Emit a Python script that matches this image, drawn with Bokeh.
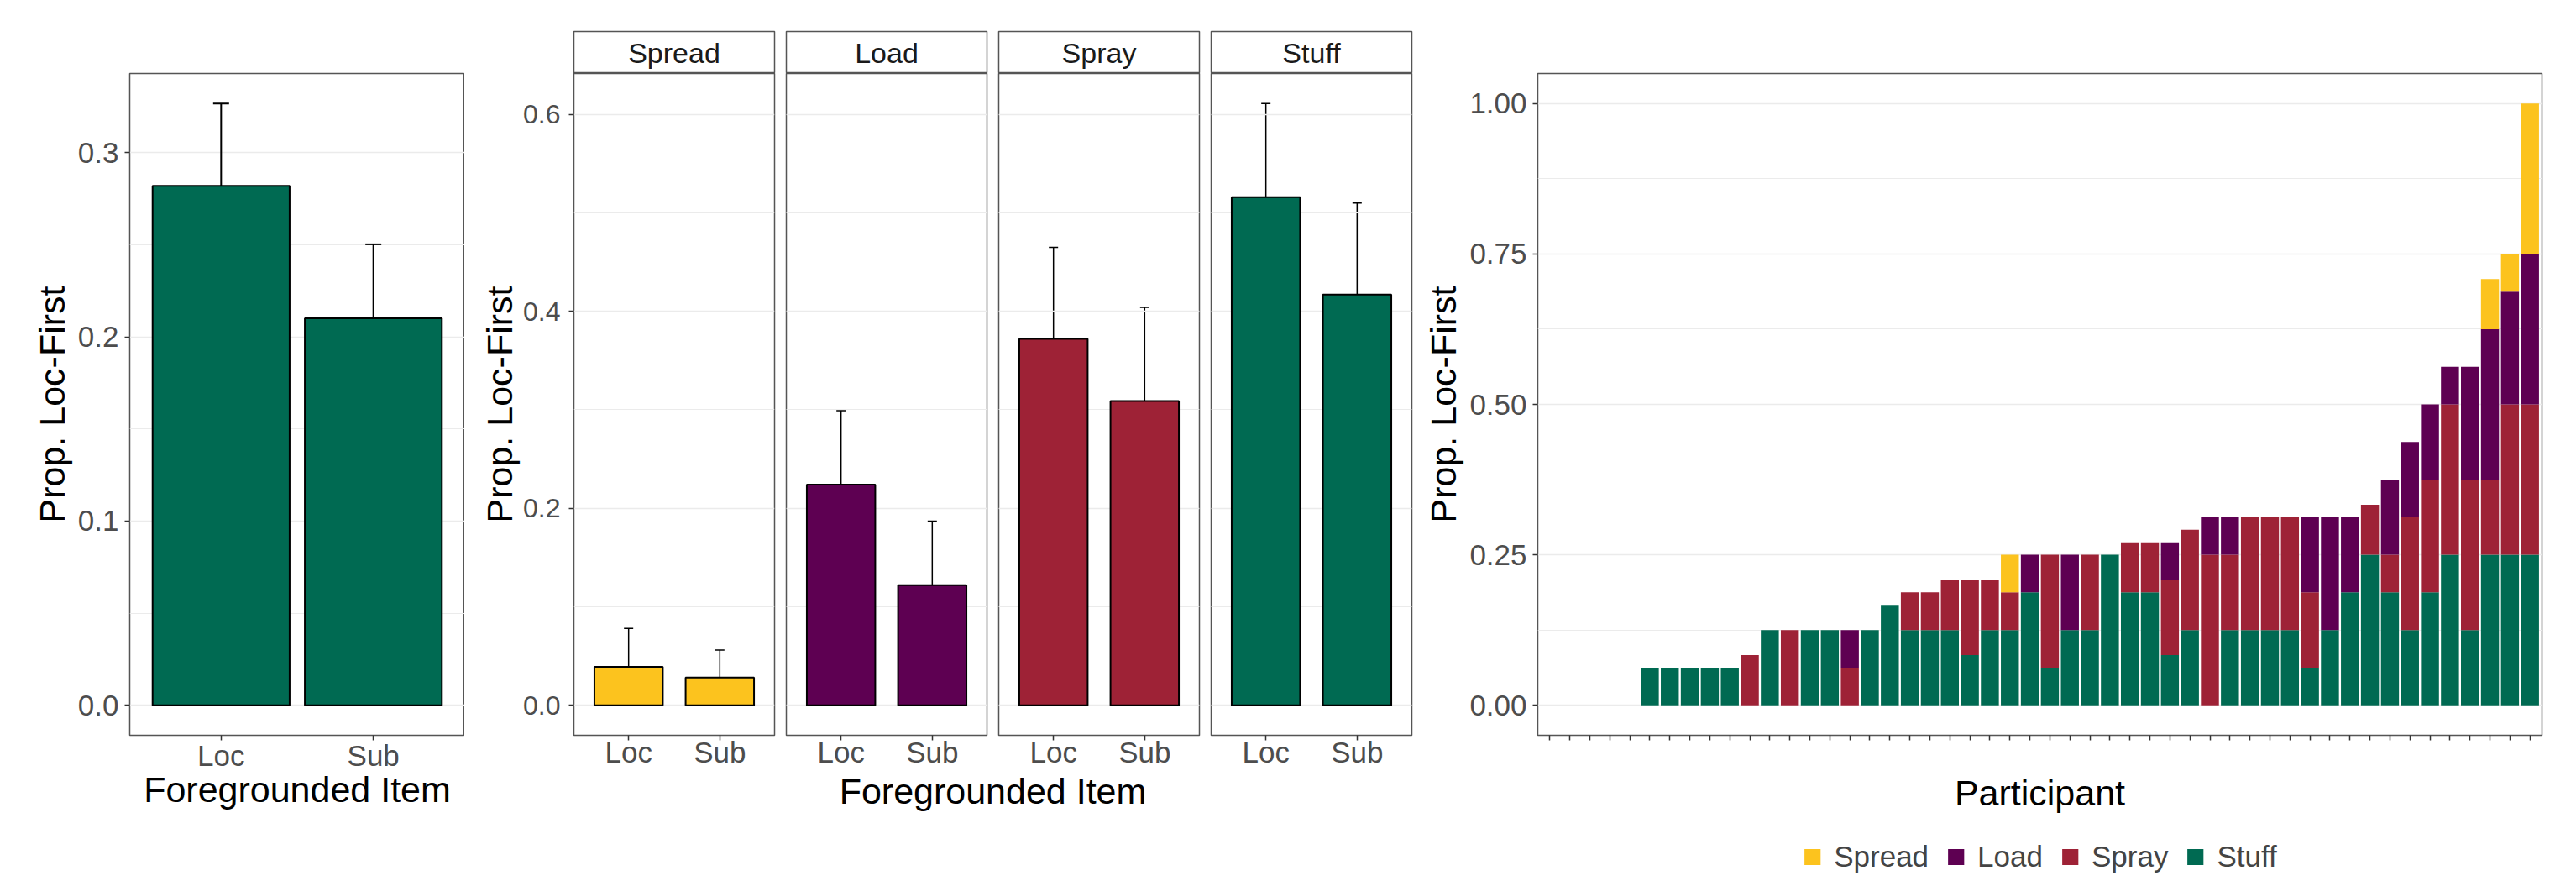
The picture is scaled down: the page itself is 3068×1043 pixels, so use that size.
import numpy as np
from bokeh.plotting import figure
from bokeh.layouts import row, column
from bokeh.models import (Range1d, FixedTicker, PrintfTickFormatter, Whisker, TeeHead,
                          ColumnDataSource, Legend, LegendItem, Grid)
from bokeh.core.properties import value
from bokeh.embed import file_html
from bokeh.resources import INLINE

FONT = "Liberation Sans"

# ---------------- data ----------------
verbs = ["Spread", "Load", "Spray", "Stuff"]
verb_colors = ["#FCC31E", "#5E0052", "#9E2236", "#006A52"]
conditions = ["Loc", "Sub"]
y_title = "Prop. Loc-First"
x_title = "Foregrounded Item"
x_title_3 = "Participant"

# panel 1: overall
overall_mean = [0.282, 0.210]
overall_lower = [0.2395, 0.1737]
overall_upper = [0.3266, 0.2502]
overall_yticks = [0.0, 0.1, 0.2, 0.3]
overall_yminor = [0.05, 0.15, 0.25]

# panel 2: by verb
verb_mean = {"Spread": [0.039, 0.028], "Load": [0.224, 0.122],
             "Spray": [0.372, 0.309], "Stuff": [0.516, 0.417]}
verb_lower = {"Spread": [0.009, 0.0], "Load": [0.150, 0.065],
              "Spray": [0.278, 0.223], "Stuff": [0.410, 0.312]}
verb_upper = {"Spread": [0.078, 0.056], "Load": [0.299, 0.187],
              "Spray": [0.465, 0.404], "Stuff": [0.611, 0.510]}
facet_yticks = [0.0, 0.2, 0.4, 0.6]
facet_yminor = [0.1, 0.3, 0.5]

# panel 3: by participant (stacked)
part_stuff = [0, 0, 0, 0, 0, 0.0625, 0.0625, 0.0625, 0.0625, 0.0625,
              0, 0.125, 0, 0.125, 0.125, 0, 0.125, 0.1667, 0.125, 0.125,
              0.125, 0.0833, 0.125, 0.125, 0.1875, 0.0625, 0.125, 0.125, 0.25, 0.1875,
              0.1875, 0.0833, 0.125, 0, 0.125, 0.125, 0.125, 0.125, 0.0625, 0.125,
              0.1875, 0.25, 0.1875, 0.125, 0.1875, 0.25, 0.125, 0.25, 0.25, 0.25]
part_spray = [0, 0, 0, 0, 0, 0, 0, 0, 0, 0,
              0.0833, 0, 0.125, 0, 0, 0.0625, 0, 0, 0.0625, 0.0625,
              0.0833, 0.125, 0.0833, 0.0625, 0, 0.1875, 0, 0.125, 0, 0.0833,
              0.0833, 0.125, 0.1667, 0.25, 0.125, 0.1875, 0.1875, 0.1875, 0.125, 0,
              0, 0.0833, 0.0625, 0.1875, 0.1875, 0.25, 0.25, 0.125, 0.25, 0.25]
part_load = [0, 0, 0, 0, 0, 0, 0, 0, 0, 0,
             0, 0, 0, 0, 0, 0.0625, 0, 0, 0, 0,
             0, 0, 0, 0, 0.0625, 0, 0.125, 0, 0, 0,
             0, 0.0625, 0, 0.0625, 0.0625, 0, 0, 0, 0.125, 0.1875,
             0.125, 0, 0.125, 0.125, 0.125, 0.0625, 0.1875, 0.25, 0.1875, 0.25]
part_spread = [0, 0, 0, 0, 0, 0, 0, 0, 0, 0,
               0, 0, 0, 0, 0, 0, 0, 0, 0, 0,
               0, 0, 0, 0.0625, 0, 0, 0, 0, 0, 0,
               0, 0, 0, 0, 0, 0, 0, 0, 0, 0,
               0, 0, 0, 0, 0, 0, 0, 0.0833, 0.0625, 0.25]
part_yticks = [0.0, 0.25, 0.5, 0.75, 1.0]
part_yminor = [0.125, 0.375, 0.625, 0.875]

# ---------------- styling helpers ----------------
OUTLINE = "#555555"
GRID = "#EBEBEB"
TICKLAB = "#4D4D4D"


def make_fig(**kw):
    return figure(title=None, output_backend="svg", toolbar_location=None, **kw)


def base_style(p):
    p.outline_line_color = OUTLINE
    p.outline_line_width = 1.5
    p.background_fill_color = "white"
    p.border_fill_color = "white"


def style_xaxis(p, tick_vals, labels, lab_standoff=-2):
    ax = p.xaxis[0]
    ax.ticker = FixedTicker(ticks=list(tick_vals))
    ax.major_label_overrides = {int(v): l for v, l in zip(tick_vals, labels)}
    ax.axis_line_color = None
    ax.major_tick_line_color = "#333333"
    ax.major_tick_line_width = 1.5
    ax.major_tick_out = 6
    ax.major_tick_in = 0
    ax.minor_tick_line_color = None
    ax.major_label_standoff = lab_standoff
    ax.major_label_text_font = FONT
    ax.major_label_text_font_size = "35px"
    ax.major_label_text_color = TICKLAB
    ax.axis_label_text_font = FONT
    ax.axis_label_text_font_size = "43px"
    ax.axis_label_text_font_style = "normal"
    ax.axis_label_text_color = "black"
    ax.axis_label_standoff = -6
    p.xgrid.grid_line_color = None


def style_yaxis(p, ticks, minor, fmt, tick_size="35px", lab_standoff=7, title_standoff=4):
    ax = p.yaxis[0]
    ax.ticker = FixedTicker(ticks=ticks, minor_ticks=minor)
    ax.formatter = PrintfTickFormatter(format=fmt)
    ax.axis_line_color = None
    ax.major_tick_line_color = "#333333"
    ax.major_tick_line_width = 1.5
    ax.major_tick_out = 6
    ax.major_tick_in = 0
    ax.minor_tick_line_color = None
    ax.major_label_standoff = lab_standoff
    ax.major_label_text_font = FONT
    ax.major_label_text_font_size = tick_size
    ax.major_label_text_color = TICKLAB
    ax.axis_label = y_title
    ax.axis_label_text_font = FONT
    ax.axis_label_text_font_size = "43px"
    ax.axis_label_text_font_style = "normal"
    ax.axis_label_text_color = "black"
    ax.axis_label_standoff = title_standoff
    p.ygrid.grid_line_color = GRID
    p.ygrid.grid_line_width = 1.5
    p.ygrid.minor_grid_line_color = GRID
    p.ygrid.minor_grid_line_width = 1.0


FRAME_H = 788
TOP = 87

# ---------------- panel 1 ----------------
xpos = np.arange(1, len(conditions) + 1)
top1 = max(overall_upper)
p1 = make_fig(frame_width=399, frame_height=FRAME_H,
              x_range=Range1d(0.4, len(conditions) + 0.6),
              y_range=Range1d(-0.05 * top1, top1 * 1.05),
              min_border_left=154, min_border_right=0,
              min_border_top=TOP, min_border_bottom=150)
base_style(p1)
src1 = ColumnDataSource(dict(x=xpos, top=overall_mean, lower=overall_lower, upper=overall_upper))
p1.vbar(x="x", top="top", bottom=0, width=0.9, source=src1,
        fill_color=verb_colors[3], line_color="black", line_width=2)
p1.add_layout(Whisker(source=src1, base="x", upper="upper", lower="lower",
                      line_width=2, line_color="black",
                      upper_head=TeeHead(size=19, line_width=2, line_color="black"),
                      lower_head=TeeHead(size=19, line_width=2, line_color="black")))
style_xaxis(p1, xpos, conditions)
p1.xaxis.axis_label = x_title
style_yaxis(p1, overall_yticks, overall_yminor, "%.1f")

# ---------------- panel 2 (facets) ----------------
top2 = max(max(v) for v in verb_upper.values())
yr2 = Range1d(-0.05 * top2, top2 * 1.05)
facet_cols = []
for i, (verb, col) in enumerate(zip(verbs, verb_colors)):
    left = 130 if i == 0 else 7
    strip = make_fig(frame_width=239, frame_height=50,
                     x_range=Range1d(0, 1), y_range=Range1d(0, 1),
                     x_axis_location=None, y_axis_location=None,
                     min_border_left=left, min_border_right=7,
                     min_border_top=TOP - 50, min_border_bottom=0)
    base_style(strip)
    strip.xgrid.visible = False
    strip.ygrid.visible = False
    strip.text(x=[0.5], y=[0.5], text=[verb], text_align="center", text_baseline="middle",
               text_font=value(FONT), text_font_size="34px", text_color="#1A1A1A")

    fp = make_fig(frame_width=239, frame_height=FRAME_H,
                  x_range=Range1d(0.4, len(conditions) + 0.6), y_range=yr2,
                  y_axis_location="left" if i == 0 else None,
                  min_border_left=left, min_border_right=7,
                  min_border_top=0, min_border_bottom=36)
    base_style(fp)
    src = ColumnDataSource(dict(x=xpos, top=verb_mean[verb],
                                lower=verb_lower[verb], upper=verb_upper[verb]))
    fp.vbar(x="x", top="top", bottom=0, width=0.75, source=src,
            fill_color=col, line_color="black", line_width=2)
    fp.add_layout(Whisker(source=src, base="x", upper="upper", lower="lower",
                          line_width=1.5, line_color="black",
                          upper_head=TeeHead(size=11, line_width=1.5, line_color="black"),
                          lower_head=TeeHead(size=11, line_width=1.5, line_color="black")))
    style_xaxis(fp, xpos, conditions, lab_standoff=-6)
    if i == 0:
        style_yaxis(fp, facet_yticks, facet_yminor, "%.1f",
                    tick_size="32px", lab_standoff=10, title_standoff=1)
    else:
        fp.add_layout(Grid(dimension=1, ticker=FixedTicker(ticks=facet_yticks, minor_ticks=facet_yminor),
                           grid_line_color=GRID, grid_line_width=1.5,
                           minor_grid_line_color=GRID, minor_grid_line_width=1.0))
    facet_cols.append(column(strip, fp))

title2 = make_fig(frame_width=998, frame_height=100,
                  x_range=Range1d(0, 1), y_range=Range1d(0, 1),
                  x_axis_location=None, y_axis_location=None,
                  min_border_left=130, min_border_right=7, min_border_top=0, min_border_bottom=0)
title2.outline_line_color = None
title2.xgrid.visible = False
title2.ygrid.visible = False
title2.text(x=[0.5], y=[1.0], text=[x_title], text_align="center", text_baseline="top",
            text_font=value(FONT), text_font_size="43px", text_color="black")
panel2 = column(row(*facet_cols), title2)

# ---------------- panel 3 ----------------
n_part = len(part_stuff)
ppos = np.arange(1, n_part + 1)
p3 = make_fig(frame_width=1196, frame_height=FRAME_H,
              x_range=Range1d(0.4, n_part + 0.6),
              y_range=Range1d(-0.05, 1.05),
              min_border_left=143, min_border_right=33,
              min_border_top=TOP, min_border_bottom=110)
base_style(p3)
src3 = ColumnDataSource(dict(x=ppos, Stuff=part_stuff, Spray=part_spray,
                             Load=part_load, Spread=part_spread))
stack_order = ["Stuff", "Spray", "Load", "Spread"]
cmap = dict(zip(verbs, verb_colors))
p3.vbar_stack(stack_order, x="x", width=0.9, source=src3,
              color=[cmap[s] for s in stack_order], line_color=None)
style_xaxis(p3, ppos, ["" for _ in ppos])
p3.xaxis.axis_label = x_title_3
p3.xaxis.major_label_text_font_size = "0px"
p3.xaxis.major_label_standoff = 0
p3.xaxis.axis_label_standoff = 38
style_yaxis(p3, part_yticks, part_yminor, "%.2f")

# legend strip below panel 3 (swatch renderers carry no drawable position)
leg = make_fig(frame_width=1196, frame_height=40,
               x_range=Range1d(0, 1), y_range=Range1d(0, 1),
               x_axis_location=None, y_axis_location=None,
               min_border_left=143, min_border_right=33, min_border_top=15, min_border_bottom=5)
leg.outline_line_color = None
leg.xgrid.visible = False
leg.ygrid.visible = False
leg_r = {v: leg.vbar(x=[np.nan], top=[np.nan], width=0.9, fill_color=c, line_color=None)
         for v, c in zip(verbs, verb_colors)}
legend = Legend(items=[LegendItem(label=v, renderers=[leg_r[v]]) for v in verbs],
                orientation="horizontal", location="center",
                label_text_font=FONT, label_text_font_size="35px",
                glyph_width=24, glyph_height=24, spacing=20, label_standoff=14,
                margin=0, padding=0, border_line_color=None, background_fill_alpha=0)
leg.add_layout(legend)

panel3 = column(p3, leg)

layout = row(p1, panel2, panel3)
open("out.html", "w").write(file_html(layout, INLINE))
